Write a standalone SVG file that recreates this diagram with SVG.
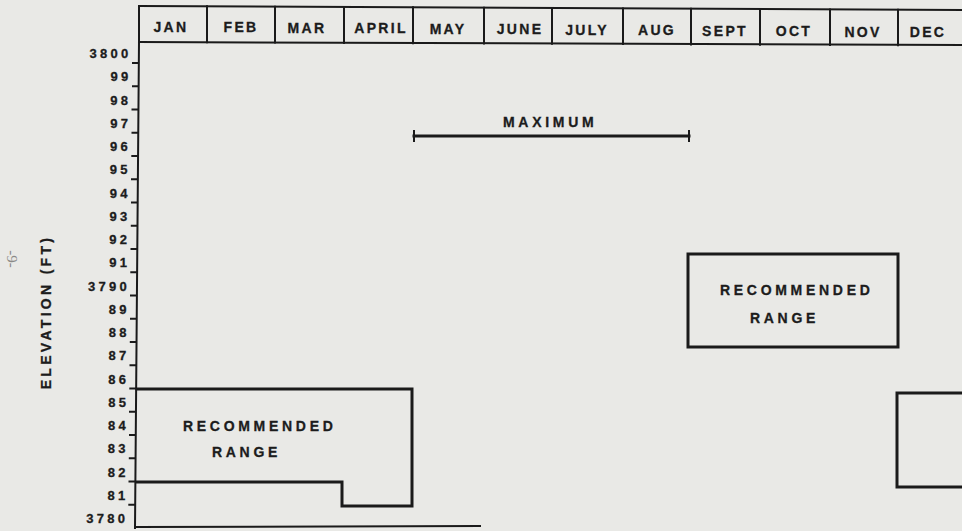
<svg xmlns="http://www.w3.org/2000/svg" width="962" height="531" viewBox="0 0 962 531">
<style>
.t{font-family:"Liberation Sans",Arial,sans-serif;font-weight:bold;fill:#1c1c1c;stroke:#1c1c1c;stroke-width:0.3}
.m{font-size:14px;letter-spacing:2.3px;text-anchor:middle}
.y{font-size:13px;letter-spacing:3.3px;text-anchor:end}
.l{font-size:14px;letter-spacing:3.7px}
.ln{stroke:#1a1a1a;fill:none;stroke-linecap:square}
.h{stroke-width:2}
.k{stroke-width:3}
</style>
<rect width="962" height="531" fill="#e9e9e6"/>
<g id="header">
<path class="ln h" d="M139,6 L962,10 M139,42 L962,45"/>
<path class="ln h" d="M139,6 V42 M207,6.3 V42.3 M275,6.7 V42.6 M344,7 V42.9 M413,7.3 V43.2 M484,7.7 V43.5 M552,8 V43.8 M623,8.4 V44.1 M691,8.7 V44.4 M760,9 V44.7 M830,9.4 V45 M898,9.7 V45.3"/>
<text class="t m" x="171" y="31.5">JAN</text>
<text class="t m" x="241" y="32">FEB</text>
<text class="t m" x="307" y="32.5">MAR</text>
<text class="t m" x="381" y="33">APRIL</text>
<text class="t m" x="448" y="33.5">MAY</text>
<text class="t m" x="520" y="34">JUNE</text>
<text class="t m" x="587" y="34.5">JULY</text>
<text class="t m" x="657" y="35">AUG</text>
<text class="t m" x="725" y="35.5">SEPT</text>
<text class="t m" x="794" y="36">OCT</text>
<text class="t m" x="863" y="36.5">NOV</text>
<text class="t m" x="928" y="37">DEC</text>
</g>
<g id="axis">
<path class="ln h" d="M139,42 L135,528 M135,527 L480,526"/>
<path class="ln h" d="M133,63 h5 M133,86.3 h5 M132.5,109.5 h5 M132.5,132.8 h5 M132.3,156 h5 M132,179.3 h5 M132,202.5 h5 M131.8,225.8 h5 M131.5,249 h5 M131.3,272.3 h5 M131,295.5 h5 M131,318.8 h5 M130.8,342 h5 M130.5,365.3 h5 M130.3,388.5 h5 M130,411.8 h5 M130,435 h5 M129.8,458.3 h5 M129.5,481.5 h5 M129.3,504.8 h5"/>
<text class="t y" x="131.5" y="58">3800</text>
<text class="t y" x="131.5" y="81.3">99</text>
<text class="t y" x="131.3" y="104.5">98</text>
<text class="t y" x="131.2" y="127.8">97</text>
<text class="t y" x="131" y="151">96</text>
<text class="t y" x="130.8" y="174.3">95</text>
<text class="t y" x="130.7" y="197.5">94</text>
<text class="t y" x="130.5" y="220.8">93</text>
<text class="t y" x="130.3" y="244">92</text>
<text class="t y" x="130.2" y="267.3">91</text>
<text class="t y" x="130" y="290.5">3790</text>
<text class="t y" x="129.8" y="313.8">89</text>
<text class="t y" x="129.7" y="337">88</text>
<text class="t y" x="129.5" y="360.3">87</text>
<text class="t y" x="129.3" y="383.5">86</text>
<text class="t y" x="129.2" y="406.8">85</text>
<text class="t y" x="129" y="430">84</text>
<text class="t y" x="128.8" y="453.3">83</text>
<text class="t y" x="128.7" y="476.5">82</text>
<text class="t y" x="128.5" y="499.8">81</text>
<text class="t y" x="128.3" y="523">3780</text>
<text class="t" font-size="14" letter-spacing="3.3" text-anchor="middle" transform="translate(51,312) rotate(-90)">ELEVATION (FT)</text>
</g>
<text x="0" y="0" font-family="'Liberation Serif',serif" font-size="15" fill="#8a8a88" text-anchor="middle" transform="translate(7,259) rotate(90)">-9-</text>
<g id="maximum">
<path class="ln k" d="M414,136 H689"/>
<path class="ln h" d="M414,131 V141 M689,131 V141"/>
<text class="t l" x="503" y="127">MAXIMUM</text>
</g>
<g id="range-jan-apr">
<path class="ln k" d="M137,389 H412 V506 H342 V482 H137"/>
<text class="t l" x="183" y="431">RECOMMENDED</text>
<text class="t l" x="212" y="457">RANGE</text>
</g>
<g id="range-sept-nov">
<rect class="ln k" x="688" y="254" width="210" height="93"/>
<text class="t l" x="720" y="295">RECOMMENDED</text>
<text class="t l" x="750" y="323">RANGE</text>
</g>
<g id="range-dec">
<path class="ln k" d="M963,393 H897 V487 H963"/>
</g>
<g id="connectors"></g>
</svg>
